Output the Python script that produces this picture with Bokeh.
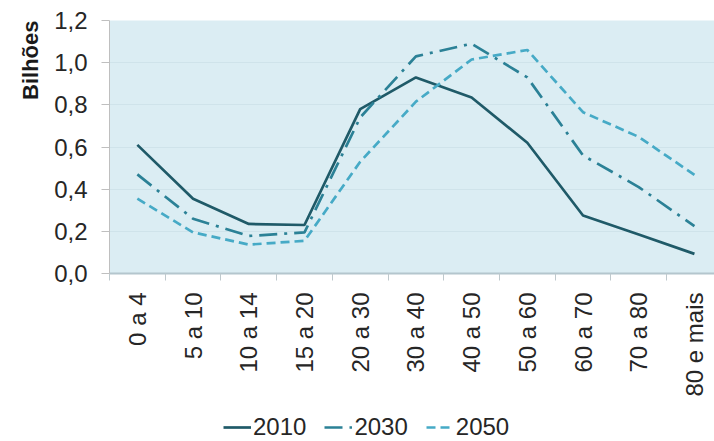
import math
from bokeh.plotting import figure
from bokeh.layouts import column
from bokeh.models import (Range1d, FixedTicker, CustomJSTickFormatter, Legend, LegendItem, Title)
from bokeh.embed import file_html
from bokeh.resources import INLINE

categories = ["0 a 4", "5 a 10", "10 a 14", "15 a 20", "20 a 30", "30 a 40",
              "40 a 50", "50 a 60", "60 a 70", "70 a 80", "80 e mais"]
y2010 = [0.61, 0.355, 0.235, 0.23, 0.78, 0.93, 0.835, 0.62, 0.275, 0.185, 0.093]
y2030 = [0.47, 0.26, 0.178, 0.195, 0.74, 1.03, 1.09, 0.93, 0.56, 0.41, 0.225]
y2050 = [0.355, 0.195, 0.137, 0.155, 0.53, 0.815, 1.015, 1.06, 0.765, 0.648, 0.468]
series_names = ["2010", "2030", "2050"]
y_ticks = [0.0, 0.2, 0.4, 0.6, 0.8, 1.0, 1.2]

xs = [i + 0.5 for i in range(len(categories))]
FONT = "Liberation Sans"
COLORS = ["#1f5a68", "#2b8196", "#46aac6"]
DASHES = ["solid", "18 7 3 7", "9 5"]
SERIES = [y2010, y2030, y2050]

W = 714
p = figure(width=W, height=400, output_backend="svg", toolbar_location=None,
           x_range=Range1d(0, 10.86), y_range=Range1d(0, 1.2),
           min_border_left=109, min_border_right=0, min_border_top=20,
           min_border_bottom=127, background_fill_color="#dbedf3",
           border_fill_color="white", outline_line_color=None)

for ys, c, d in zip(SERIES, COLORS, DASHES):
    p.line(xs, ys, line_color=c, line_width=2.7, line_dash=d)

# x axis
p.xaxis.ticker = FixedTicker(ticks=xs, minor_ticks=list(range(len(categories) + 1)))
p.xaxis.formatter = CustomJSTickFormatter(args=dict(labels=categories),
                                          code="return labels[Math.floor(tick)];")
p.xaxis.major_label_orientation = math.pi / 2
p.xaxis.major_tick_line_color = None
p.xaxis.major_tick_out = 7
p.xaxis.major_tick_in = 0
p.xaxis.minor_tick_line_color = "#bfc9cd"
p.xaxis.minor_tick_out = 7
p.xaxis.minor_tick_in = 0
p.xaxis.axis_line_color = "#b4c6cd"
p.xaxis.axis_line_width = 2
p.xaxis.major_label_standoff = 12
p.xaxis.major_label_text_font = FONT
p.xaxis.major_label_text_font_size = "24px"
p.xaxis.major_label_text_color = "#262626"

# y axis
p.yaxis.ticker = FixedTicker(ticks=y_ticks)
p.yaxis.formatter = CustomJSTickFormatter(code="return tick.toFixed(1).replace('.', ',');")
p.yaxis.major_tick_out = 8
p.yaxis.major_tick_in = 0
p.yaxis.major_tick_line_color = "#bfbfbf"
p.yaxis.minor_tick_line_color = None
p.yaxis.axis_line_color = "#bfbfbf"
p.yaxis.major_label_standoff = 14
p.yaxis.major_label_text_font = FONT
p.yaxis.major_label_text_font_size = "24px"
p.yaxis.major_label_text_color = "#262626"

p.xgrid.grid_line_color = None
p.ygrid.grid_line_color = "#cfe3ea"
p.ygrid.grid_line_width = 1

p.add_layout(Title(text="Bilhões", align="right", text_font=FONT,
                   text_font_size="22px", text_font_style="bold",
                   text_color="#1a1a1a", standoff=18), "left")

# legend row (its frame is aligned with the main frame, which starts at x=109)
lg = figure(width=W, height=41, output_backend="svg", toolbar_location=None,
            x_axis_type=None, y_axis_type=None, min_border=0,
            outline_line_color=None, x_range=Range1d(100, 101), y_range=Range1d(0, 1))
lg.xgrid.visible = False
lg.ygrid.visible = False
items = []
for name, ys, c, d in zip(series_names, SERIES, COLORS, DASHES):
    r = lg.line(xs, ys, line_color=c, line_width=2.7, line_dash=d)
    items.append(LegendItem(label=name, renderers=[r]))
legend = Legend(items=items, orientation="horizontal", location=(114, 0),
                label_text_font=FONT, label_text_font_size="24px",
                label_text_color="#262626", glyph_width=28, glyph_height=20,
                label_standoff=2, spacing=18, padding=0, margin=0,
                border_line_color=None, background_fill_alpha=0)
lg.add_layout(legend, "center")

layout = column(p, lg, spacing=0)
open("out.html", "w").write(file_html(layout, INLINE))
